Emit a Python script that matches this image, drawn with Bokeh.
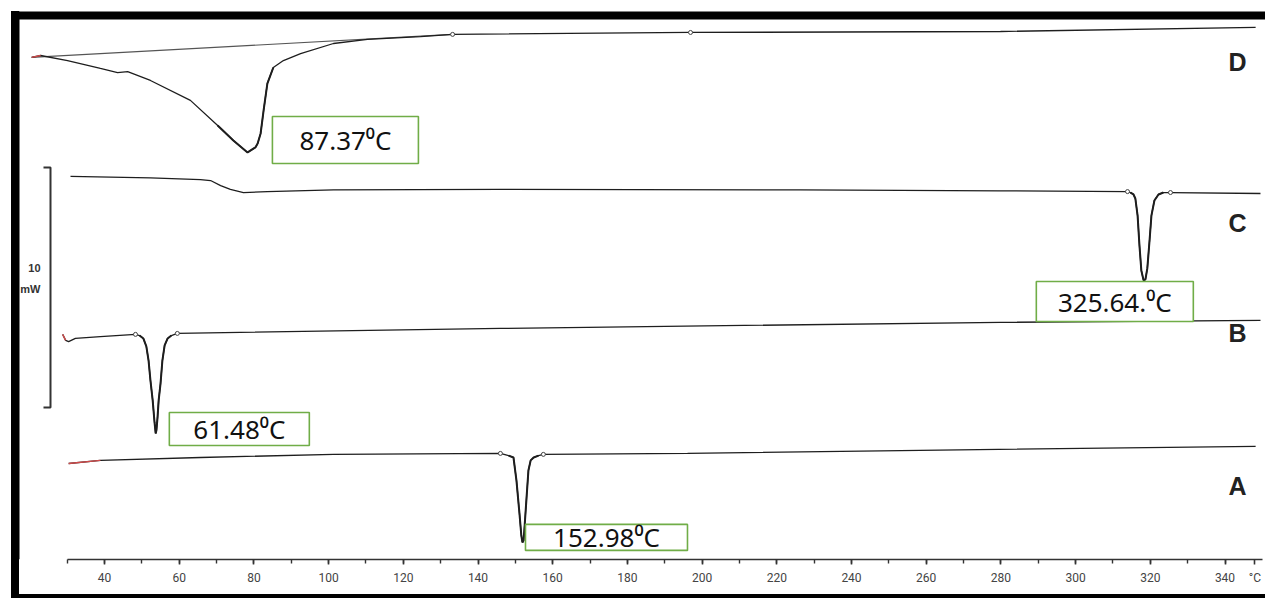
from bokeh.plotting import figure
from bokeh.models import Range1d, FixedTicker, BoxAnnotation
from bokeh.core.properties import value
from bokeh.embed import file_html
from bokeh.resources import INLINE

# ---------------- data (temperature in degC, heat flow in mW incl. vertical offset) -------------
# Curve D
d_temp = [20.5, 22.9, 30.1, 38.9, 43.5, 46.2, 52.3, 63.0, 70.3, 74.5, 78.3, 80.4, 81.0, 81.8,
          82.6, 83.6, 85.2, 87.9, 92.5, 101.3, 110.4, 124.6, 133.2, 196.9, 279.9, 348.2]
d_mw = [20.92, 21.0, 20.79, 20.46, 20.29, 20.33, 19.96, 19.13, 18.08, 17.46, 16.96, 17.17, 17.33, 17.75,
        18.71, 19.83, 20.5, 20.79, 21.08, 21.5, 21.67, 21.79, 21.88, 21.96, 22.0, 22.17]
d_base_temp = [20.5, 133.2]
d_base_mw = [20.92, 21.88]

# Curve C
c_temp = [30.9, 52.3, 65.7, 68.4, 71.1, 73.7, 77.2, 83.6, 101.3, 146.0, 226.3, 279.9, 313.9,
          314.7, 315.5, 316.0, 316.6, 317.1, 317.6, 318.2, 318.7, 319.2, 319.8, 320.3, 321.1,
          322.2, 323.5, 325.4, 349.5]
c_mw = [15.96, 15.90, 15.83, 15.79, 15.58, 15.42, 15.29, 15.33, 15.40, 15.42, 15.40, 15.36, 15.33,
        15.29, 15.21, 15.04, 14.33, 13.08, 12.04, 11.63, 11.67, 12.13, 13.29, 14.33, 14.96,
        15.21, 15.29, 15.29, 15.25]

# Curve B
b_temp = [28.8, 29.6, 30.4, 32.2, 38.9, 48.3, 49.4, 50.4, 51.2, 51.8, 52.3, 52.9, 53.4, 53.7,
          53.9, 54.2, 54.5, 55.0, 55.5, 56.1, 56.9, 57.9, 59.5, 146.0, 279.9, 349.5]
b_mw = [9.38, 9.13, 9.08, 9.21, 9.29, 9.38, 9.33, 9.21, 8.88, 8.29, 7.46, 6.63, 5.71, 5.25,
        5.38, 5.92, 6.63, 7.33, 8.29, 8.92, 9.21, 9.33, 9.42, 9.63, 9.88, 9.96]

# Curve A
a_temp = [30.4, 38.9, 65.7, 101.3, 146.0, 148.2, 149.5, 150.3, 151.1, 151.6, 151.9, 152.2,
          152.4, 153.0, 153.5, 154.1, 154.9, 156.2, 157.5, 196.1, 253.1, 348.2]
a_mw = [4.0, 4.13, 4.25, 4.38, 4.42, 4.33, 4.25, 3.29, 1.92, 1.0, 0.71, 0.79,
        1.21, 2.58, 3.71, 4.13, 4.25, 4.33, 4.38, 4.42, 4.54, 4.71]

# onset / endset markers
mark_temp = [133.2, 196.9, 313.9, 325.4, 48.3, 59.5, 146.0, 157.5]
mark_mw = [21.88, 21.96, 15.33, 15.29, 9.38, 9.42, 4.42, 4.38]

# peak annotations
peak_labels = ["87.37\u2070C", "325.64.\u2070C", "61.48\u2070C", "152.98\u2070C"]
label_temp = [104.5, 310.5, 76.1, 174.4]
label_mw = [17.48, 10.75, 5.44, 0.92]

curve_names = ["D", "C", "B", "A"]
curve_name_mw = [20.75, 14.04, 9.42, 3.08]

scale_bar_mw = 10
scale_bar_bottom = 6.33

major_ticks = list(range(40, 341, 20)) + [348]
minor_ticks = list(range(30, 341, 10))
tick_text = {348: "\u00b0C"}

# ---------------- layout / style ---------------------------------------------------------------
W, H = 1265, 598
PX_PER_C = 3.735
PX_PER_MW = 24.0
FRAME_H = 559
x0 = 40 - 104 / PX_PER_C
x1 = x0 + W / PX_PER_C


def px_to_c(px):
    return 40 + (px - 104) / PX_PER_C


def py_to_mw(py):
    return (FRAME_H - py) / PX_PER_MW


p = figure(width=W, height=H,
           x_range=Range1d(x0, x1),
           y_range=Range1d(0, FRAME_H / PX_PER_MW),
           output_backend="svg", toolbar_location=None, y_axis_location=None,
           min_border_left=0, min_border_right=0, min_border_top=0, min_border_bottom=H - FRAME_H)
p.background_fill_color = None
p.border_fill_color = None
p.outline_line_color = None
p.xgrid.visible = False
p.ygrid.visible = False
# black picture frame: left and bottom edges via CSS, top edge as a box annotation
p.styles = {"box-shadow": "inset 0 11px 0 0 #ffffff, inset 11px 0 0 0 #ffffff, "
                          "inset 19px 0 0 0 #000000, inset 0 -4px 0 0 #000000"}
p.add_layout(BoxAnnotation(left=px_to_c(11), right=x1, top=py_to_mw(11), bottom=py_to_mw(19),
                           fill_color="black", fill_alpha=1, line_color=None))
p.add_layout(BoxAnnotation(left=px_to_c(11), right=px_to_c(19), top=py_to_mw(11), bottom=0,
                           fill_color="black", fill_alpha=1, line_color=None))

ax = p.xaxis[0]
ax.ticker = FixedTicker(ticks=major_ticks, minor_ticks=minor_ticks)
ax.major_label_overrides = tick_text
ax.bounds = (30, 350)
ax.axis_line_color = "#333333"
ax.axis_line_width = 1.6
ax.major_tick_line_color = "#333333"
ax.major_tick_line_width = 1.6
ax.minor_tick_line_color = "#333333"
ax.minor_tick_line_width = 1.4
ax.major_tick_in = 0
ax.major_tick_out = 5
ax.minor_tick_in = 0
ax.minor_tick_out = 4
ax.major_label_text_font = "Roboto"
ax.major_label_text_font_size = "12px"
ax.major_label_text_color = "#444444"
ax.major_label_standoff = 6

line_col = "#1e1e1e"
p.line(d_base_temp, d_base_mw, line_color="#555555", line_width=1.1)
for t, m in [(d_temp, d_mw), (c_temp, c_mw), (b_temp, b_mw), (a_temp, a_mw)]:
    p.line(t, m, line_color=line_col, line_width=1.3)
# heavier strokes on the melting peaks
for t, m, i, j in [(d_temp, d_mw, 8, 17), (c_temp, c_mw, 13, 27), (b_temp, b_mw, 6, 22),
                   (a_temp, a_mw, 5, 18)]:
    p.line(t[i:j], m[i:j], line_color=line_col, line_width=2.0)
# red start marks
for t, m in [(d_temp, d_mw), (b_temp, b_mw), (a_temp, a_mw)]:
    p.line(t[:2], m[:2], line_color="#d04a4a", line_width=1.3)

p.scatter(mark_temp, mark_mw, size=4, marker="circle", fill_color="white",
          line_color="#444444", line_width=1)

# scale bar (10 mW)
sb_x = px_to_c(50)
sb_x2 = px_to_c(43)
p.line([sb_x2, sb_x, sb_x, sb_x2],
       [scale_bar_bottom + scale_bar_mw, scale_bar_bottom + scale_bar_mw, scale_bar_bottom, scale_bar_bottom],
       line_color="#333333", line_width=2)
p.text(x=[px_to_c(40)] * 2,
       y=[scale_bar_bottom + scale_bar_mw / 2 + 0.8, scale_bar_bottom + scale_bar_mw / 2 - 0.04],
       text=["10", "mW"], text_align="right", text_baseline="middle",
       text_font=value("Liberation Sans"), text_font_size="11px", text_font_style="bold",
       text_color="#333333")

# peak boxes
box_w = [146, 157, 140, 162]
box_h = [47, 40, 33, 26]
p.rect(x=label_temp, y=label_mw, width=box_w, height=box_h, width_units="screen",
       height_units="screen", fill_color="white", line_color="#70AD47", line_width=1.6)
p.text(x=label_temp, y=label_mw, text=peak_labels, text_align="center", text_baseline="middle",
       text_font=value("Noto Sans"), text_font_size="26px", text_color="#111111")

# curve letters
p.text(x=[px_to_c(1237)] * 4, y=curve_name_mw, text=curve_names, text_align="center",
       text_baseline="middle", text_font=value("Liberation Sans"), text_font_size="25px",
       text_font_style="bold", text_color="#222222")

open("out.html", "w").write(file_html(p, INLINE))
